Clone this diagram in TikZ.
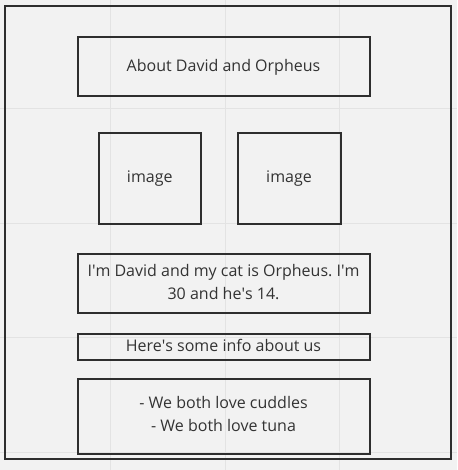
\documentclass[tikz,border=0pt]{standalone}
\usepackage{fontspec}
\setmainfont{Open Sans}
\frenchspacing
\definecolor{paper}{HTML}{F2F2F2}
\definecolor{gridline}{HTML}{E3E3E3}
\definecolor{ink}{HTML}{2E2E2E}
\definecolor{txt}{HTML}{333333}
\newcommand{\apos}{\textquotesingle}
\begin{document}
\begin{tikzpicture}[x=1pt,y=-1pt,
  frame/.style={draw=ink,line width=2pt},
  box/.style={draw=ink,line width=2pt,inner sep=0pt,outer sep=0pt},
  label/.style={text=txt,font=\fontsize{16}{23}\selectfont,align=center}]
  % page and background grid
  \fill[paper] (0,0) rectangle (457,470);
  \useasboundingbox (0,0) rectangle (457,470);
  \foreach \gx in {110.5,225,339.5}
    \draw[gridline,line width=1pt] (\gx,0) -- (\gx,470);
  \foreach \gy in {108.5,223,337.5,452}
    \draw[gridline,line width=1pt] (0,\gy) -- (457,\gy);
  % outer frame
  \draw[frame] (4.5,6.5) rectangle (450.5,458.5);
  % boxes
  \draw[box] (77.5,37.5) rectangle (369.5,96.5);
  \node[label] (title) at (223.5,67.5) {About David and Orpheus};
  \draw[box] (98.5,133.5) rectangle (201,223.5);
  \node[label] (imgA) at (149.75,179) {image};
  \draw[box] (237.5,133.5) rectangle (340.5,223.5);
  \node[label] (imgB) at (289,179) {image};
  \draw[box] (77.5,253.5) rectangle (369.5,312.5);
  \node[label] (intro) at (223.5,282) {I\apos m David and my cat is Orpheus. I\apos m\\30 and he\apos s 14.};
  \draw[box] (77.5,333.5) rectangle (369.5,359.5);
  \node[label] (info) at (223.5,345) {Here\apos s some info about us};
  \draw[box] (77.5,378.5) rectangle (369.5,453.5);
  \node[label] (facts) at (223.5,413.5) {- We both love cuddles\\- We both love tuna};
\end{tikzpicture}
\end{document}
